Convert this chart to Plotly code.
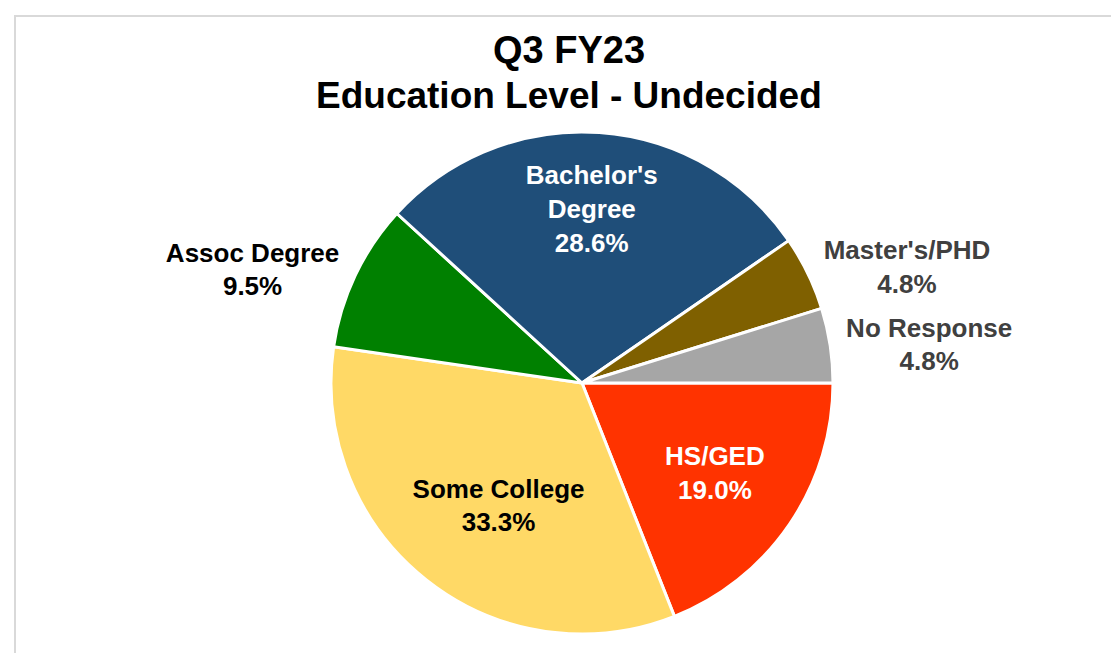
import plotly.graph_objects as go

# slices in clockwise order starting at 3 o'clock
labels = ["HS/GED", "Some College", "Assoc Degree", "Bachelor's Degree", "Master's/PHD", "No Response"]
display = ["HS/GED", "Some College", "Assoc Degree", "Bachelor's<br>Degree", "Master's/PHD", "No Response"]
pcts = [19.0, 33.3, 9.5, 28.6, 4.8, 4.8]
colors = ["#FF3300", "#FFD966", "#008000", "#1F4E79", "#7F6000", "#A6A6A6"]
text_colors = ["#FFFFFF", "#000000", "#000000", "#FFFFFF", "#404040", "#404040"]
text_pos = ["inside", "inside", "outside", "inside", "outside", "outside"]
# blank padding lines nudge the inside labels toward where the original puts them
pad_before = ["", " <br>", "", "", "", ""]
pad_after = ["", "", "", "<br> <br> ", "", ""]

W, H = 1119, 653
FONT = "Liberation Sans, Arial"

fig = go.Figure(go.Pie(
    labels=labels,
    values=pcts,
    text=display,
    customdata=list(zip(pad_before, pad_after)),
    texttemplate="%{customdata[0]}<b>%{text}<br>%{value:.1f}%</b>%{customdata[1]}",
    textposition=text_pos,
    insidetextorientation="horizontal",
    textfont=dict(family=FONT, size=26, color=text_colors),
    marker=dict(colors=colors, line=dict(color="white", width=3)),
    sort=False,
    direction="clockwise",
    rotation=90,
    showlegend=False,
    hoverinfo="label+percent",
    domain=dict(x=[323 / W, 825 / W], y=[27 / H, 529 / H]),
))

fig.update_layout(
    width=W, height=H,
    margin=dict(l=0, r=0, t=0, b=0),
    paper_bgcolor="white",
    annotations=[
        dict(text="<b>Q3 FY23</b>", x=561 / W, y=1 - 42 / H, xref="paper", yref="paper",
             xanchor="center", yanchor="middle", showarrow=False,
             font=dict(family=FONT, size=38, color="#000000")),
        dict(text="<b>Education Level - Undecided</b>", x=561 / W, y=1 - 87 / H,
             xref="paper", yref="paper", xanchor="center", yanchor="middle", showarrow=False,
             font=dict(family=FONT, size=37, color="#000000")),
    ],
    shapes=[dict(type="rect", xref="paper", yref="paper",
                 x0=7 / W, x1=1.05, y0=-0.05, y1=1 - 8 / H,
                 line=dict(color="#D9D9D9", width=2), fillcolor="rgba(0,0,0,0)")],
)

fig.write_html("out.html")
